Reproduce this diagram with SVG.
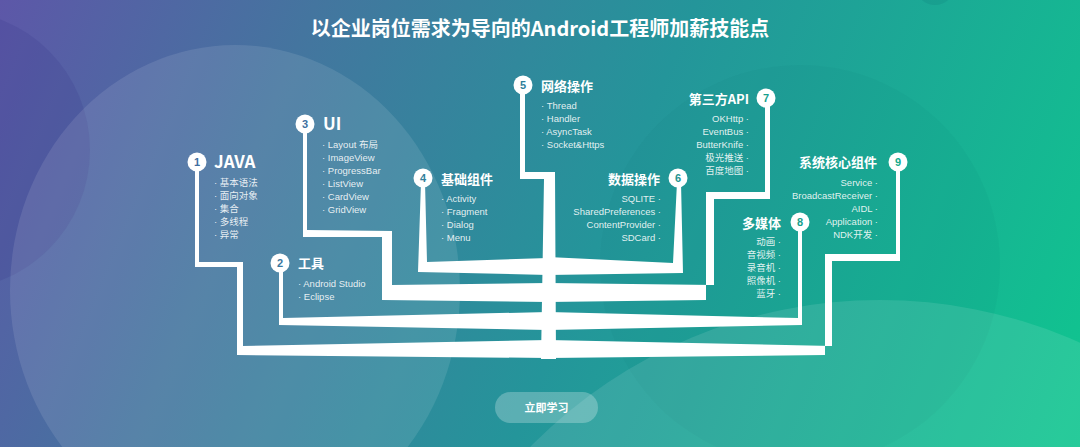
<svg xmlns="http://www.w3.org/2000/svg" width="1080" height="447" viewBox="0 0 1080 447">
<defs>
<linearGradient id="bg" x1="0" y1="0" x2="1080" y2="447" gradientUnits="userSpaceOnUse">
<stop offset="0" stop-color="#5d57a8"/>
<stop offset="0.25" stop-color="#44759f"/>
<stop offset="0.55" stop-color="#24959a"/>
<stop offset="1" stop-color="#0fc68f"/>
</linearGradient>
<style>
.ln{fill:#ffffff}
.dot{fill:#ffffff}
.num{font-family:"Liberation Sans Narrow","Liberation Sans",sans-serif;font-weight:bold;font-size:11px;text-anchor:middle}
.ttl{font-family:"Noto Sans CJK SC","Noto Sans",sans-serif;font-weight:bold;font-size:13px;fill:#ffffff}
.ttlL{font-family:"Noto Sans CJK SC","Noto Sans",sans-serif;font-weight:bold;font-size:17px;fill:#ffffff}
.it{font-family:"Liberation Sans","Noto Sans CJK SC",sans-serif;font-size:9.5px;fill:#ffffff;fill-opacity:0.88}
.r{text-anchor:end}
</style>
</defs>
<rect x="0" y="0" width="1080" height="447" fill="url(#bg)"/>
<circle cx="-50" cy="150" r="140" fill="#3b3d8c" fill-opacity="0.22"/>
<ellipse cx="235" cy="290" rx="225" ry="245" fill="#ffffff" fill-opacity="0.1"/>
<circle cx="800" cy="265" r="200" fill="#06606a" fill-opacity="0.05"/>
<circle cx="880" cy="790" r="490" fill="#ffffff" fill-opacity="0.1"/>
<circle cx="935" cy="-15" r="20" fill="#0a5a6a" fill-opacity="0.12"/>

<text x="540" y="36" text-anchor="middle" font-family="'Noto Sans CJK SC','Noto Sans',sans-serif" font-weight="bold" font-size="20" fill="#ffffff">以企业岗位需求为导向的Android工程师加薪技能点</text>

<g id="connectors">
<polygon class="ln" points="195,168 199,168 199,262 243,262 243,346 548,340 548,358 237,355 237,267 195,267"/>
<polygon class="ln" points="279,268 283,268 283,318 548,312 548,330 279,325"/>
<polygon class="ln" points="303,128 307,128 307,230 392,231 392,285 548,283 548,302 382,300 382,237 303,237"/>
<polygon class="ln" points="421,182 425,182 427,262 548,258 548,275 418,272"/>
<polygon class="ln" points="520,90 525,90 525,172 555,172 556,359 541,359 544,179 520,179"/>
<polygon class="ln" points="677,182 681,182 683,273 548,275 548,257 673,263"/>
<polygon class="ln" points="765,102 770,102 770,199 714,199 714,285 548,283 548,302 706,300 706,192 765,192"/>
<polygon class="ln" points="798,226 802,226 802,325 548,330 548,312 798,318"/>
<polygon class="ln" points="896,166 900,166 900,261 832,261 832,346 548,340 548,358 825,355 825,254 896,254"/>
</g>

<g id="node-1">
<circle class="dot" cx="197" cy="162" r="9.5"/>
<text class="num" x="197" y="166" fill="#3f6ea0">1</text>
<text class="ttlL" x="214" y="168">JAVA</text>
<text class="it" x="214" y="186">· 基本语法</text>
<text class="it" x="214" y="199">· 面向对象</text>
<text class="it" x="214" y="212">· 集合</text>
<text class="it" x="214" y="225">· 多线程</text>
<text class="it" x="214" y="238">· 异常</text>
</g>

<g id="node-2">
<circle class="dot" cx="280" cy="263" r="9.5"/>
<text class="num" x="280" y="267" fill="#3a78a0">2</text>
<text class="ttl" x="298" y="268">工具</text>
<text class="it" x="298" y="287">· Android Studio</text>
<text class="it" x="298" y="300">· Eclipse</text>
</g>

<g id="node-3">
<circle class="dot" cx="305" cy="124" r="9.5"/>
<text class="num" x="305" y="128" fill="#3d70a0">3</text>
<text class="ttlL" x="323" y="130">UI</text>
<text class="it" x="322" y="148">· Layout 布局</text>
<text class="it" x="322" y="161">· ImageView</text>
<text class="it" x="322" y="174">· ProgressBar</text>
<text class="it" x="322" y="187">· ListView</text>
<text class="it" x="322" y="200">· CardView</text>
<text class="it" x="322" y="213">· GridView</text>
</g>

<g id="node-4">
<circle class="dot" cx="423" cy="178" r="9.5"/>
<text class="num" x="423" y="182" fill="#32809c">4</text>
<text class="ttl" x="441" y="184">基础组件</text>
<text class="it" x="441" y="202">· Activity</text>
<text class="it" x="441" y="215">· Fragment</text>
<text class="it" x="441" y="228">· Dialog</text>
<text class="it" x="441" y="241">· Menu</text>
</g>

<g id="node-5">
<circle class="dot" cx="523" cy="85" r="9.5"/>
<text class="num" x="523" y="89" fill="#2f7f9a">5</text>
<text class="ttl" x="541" y="91">网络操作</text>
<text class="it" x="541" y="109">· Thread</text>
<text class="it" x="541" y="122">· Handler</text>
<text class="it" x="541" y="135">· AsyncTask</text>
<text class="it" x="541" y="148">· Socket&amp;Https</text>
</g>

<g id="node-6">
<circle class="dot" cx="678" cy="178" r="9.5"/>
<text class="num" x="678" y="182" fill="#1f948f">6</text>
<text class="ttl r" x="660" y="184">数据操作</text>
<text class="it r" x="661" y="202">SQLITE ·</text>
<text class="it r" x="661" y="215">SharedPreferences ·</text>
<text class="it r" x="661" y="228">ContentProvider ·</text>
<text class="it r" x="661" y="241">SDCard ·</text>
</g>

<g id="node-7">
<circle class="dot" cx="766" cy="98" r="9.5"/>
<text class="num" x="766" y="102" fill="#169f8e">7</text>
<text class="ttl r" x="749" y="104" font-size="14">第三方API</text>
<text class="it r" x="749" y="122">OKHttp ·</text>
<text class="it r" x="749" y="135">EventBus ·</text>
<text class="it r" x="749" y="148">ButterKnife ·</text>
<text class="it r" x="749" y="161">极光推送 ·</text>
<text class="it r" x="749" y="174">百度地图 ·</text>
</g>

<g id="node-8">
<circle class="dot" cx="800" cy="222" r="9.5"/>
<text class="num" x="800" y="226" fill="#17a08c">8</text>
<text class="ttl r" x="781" y="228">多媒体</text>
<text class="it r" x="781" y="245">动画 ·</text>
<text class="it r" x="781" y="258">音视频 ·</text>
<text class="it r" x="781" y="271">录音机 ·</text>
<text class="it r" x="781" y="284">照像机 ·</text>
<text class="it r" x="781" y="297">蓝牙 ·</text>
</g>

<g id="node-9">
<circle class="dot" cx="898" cy="162" r="9.5"/>
<text class="num" x="898" y="166" fill="#12aa8c">9</text>
<text class="ttl r" x="877" y="167">系统核心组件</text>
<text class="it r" x="878" y="186">Service ·</text>
<text class="it r" x="878" y="199">BroadcastReceiver ·</text>
<text class="it r" x="878" y="212">AIDL ·</text>
<text class="it r" x="878" y="225">Application ·</text>
<text class="it r" x="878" y="238">NDK开发 ·</text>
</g>

<g id="button">
<rect x="495" y="392" width="103" height="31" rx="15.5" fill="#ffffff" fill-opacity="0.25"/>
<text x="546.5" y="412" text-anchor="middle" font-family="'Noto Sans CJK SC',sans-serif" font-weight="bold" font-size="11" fill="#ffffff">立即学习</text>
</g>
</svg>
